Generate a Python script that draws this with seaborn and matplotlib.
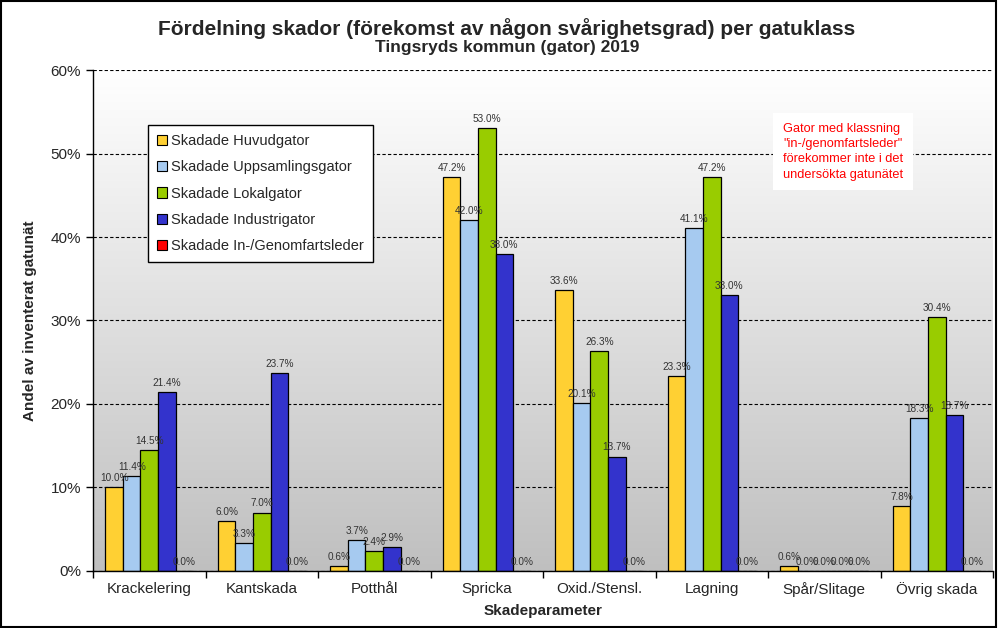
import numpy as np
import pandas as pd
import matplotlib
matplotlib.use("Agg")
import matplotlib.pyplot as plt
import seaborn as sns
from matplotlib.patches import Rectangle, Patch
from matplotlib.ticker import FuncFormatter, FixedLocator

# ── Data ─────────────────────────────────────────────────────────────────────
categories = ["Krackelering", "Kantskada", "Potthål", "Spricka",
              "Oxid./Stensl.", "Lagning", "Spår/Slitage", "Övrig skada"]
series = ["Skadade Huvudgator", "Skadade Uppsamlingsgator", "Skadade Lokalgator",
          "Skadade Industrigator", "Skadade In-/Genomfartsleder"]
huvud      = [10.0, 6.0, 0.6, 47.2, 33.6, 23.3, 0.6, 7.8]
uppsamling = [11.4, 3.3, 3.7, 42.0, 20.1, 41.1, 0.0, 18.3]
lokal      = [14.5, 7.0, 2.4, 53.0, 26.3, 47.2, 0.0, 30.4]
industri   = [21.4, 23.7, 2.9, 38.0, 13.7, 33.0, 0.0, 18.7]
genomfart  = [0.0, 0.0, 0.0, 0.0, 0.0, 0.0, 0.0, 0.0]
colors = ["#FFD033", "#A6CAF0", "#99CC00", "#3333CC", "#FF0000"]

title = "Fördelning skador (förekomst av någon svårighetsgrad) per gatuklass"
subtitle = "Tingsryds kommun (gator) 2019"
note = 'Gator med klassning\n"in-/genomfartsleder"\nförekommer inte i det\nundersökta gatunätet'

rows = []
for name, vals in zip(series, [huvud, uppsamling, lokal, industri, genomfart]):
    for cat, v in zip(categories, vals):
        rows.append({"Skadeparameter": cat, "Andel": v, "Gatuklass": name})
df = pd.DataFrame(rows)

# ── Style ────────────────────────────────────────────────────────────────────
sns.set_style("white")
plt.rcParams["font.family"] = ["Liberation Sans", "DejaVu Sans"]

fig = plt.figure(figsize=(9.98, 6.28), dpi=100)
ax = fig.add_axes([0.0932, 0.0908, 0.9018, 0.7977])

# gradient background of the plot area
grad = np.linspace(1.0, 0.75, 256)[:, None] * np.ones((1, 2))
rgb = np.dstack([grad, grad, grad])
ax.imshow(rgb, extent=[-0.5, 7.5, 0, 60], aspect="auto", zorder=0,
          interpolation="bilinear")

sns.barplot(data=df, x="Skadeparameter", y="Andel", hue="Gatuklass",
            palette=colors, width=0.78, edgecolor="black", linewidth=0.9,
            saturation=1, ax=ax, legend=False, zorder=2)

for cont in ax.containers:
    ax.bar_label(cont, labels=[f"{v:.1f}%" for v in cont.datavalues],
                 padding=3, fontsize=7.2, color="#333333")

ax.set_xlim(-0.5, 7.5)
ax.set_ylim(0, 60)
ax.set_yticks(range(0, 61, 10))
ax.yaxis.set_major_formatter(FuncFormatter(lambda v, p: f"{v:.0f}%"))
ax.yaxis.grid(True, linestyle=(0, (3, 2)), color="black", linewidth=0.8)
ax.set_axisbelow(True)

ax.xaxis.set_minor_locator(FixedLocator(np.arange(-0.5, 8, 1)))
ax.tick_params(axis="x", which="major", length=0, labelsize=11, pad=8)
ax.tick_params(axis="x", which="minor", length=5, width=1, color="black",
               direction="out", bottom=True)
ax.tick_params(axis="y", length=5, width=1, color="black", direction="out",
               left=True, labelsize=11)

for s in ["top", "right"]:
    ax.spines[s].set_visible(False)
for s in ["left", "bottom"]:
    ax.spines[s].set_color("black")
    ax.spines[s].set_linewidth(1)

ax.set_xlabel("Skadeparameter", fontsize=11, fontweight="bold", labelpad=5)
ax.set_ylabel("Andel av inventerat gatunät", fontsize=11, fontweight="bold",
              labelpad=10)

handles = [Patch(facecolor=c, edgecolor="black", linewidth=0.8) for c in colors]
leg = ax.legend(handles, series, loc="upper left", bbox_to_anchor=(0.061, 0.89),
                borderaxespad=0, fontsize=10.5, frameon=True, fancybox=False,
                edgecolor="black", framealpha=1, handlelength=0.7,
                handleheight=0.7, handletextpad=0.3, labelspacing=0.85,
                borderpad=0.6)
leg.get_frame().set_linewidth(1)
leg.set_zorder(5)

fig.text(0.7846, 0.804, note, color="red", fontsize=9.2, va="top", ha="left",
         linespacing=1.35,
         bbox=dict(facecolor="white", edgecolor="none", pad=7))

fig.text(0.508, 0.955, title, ha="center", va="center", fontsize=15,
         fontweight="bold")
fig.text(0.508, 0.925, subtitle, ha="center", va="center", fontsize=12.5,
         fontweight="bold")

fig.patches.append(Rectangle((0.001, 0.002), 0.997, 0.996, transform=fig.transFigure,
                             fill=False, edgecolor="black", linewidth=1.5))

fig.savefig("out.png", dpi=100)
